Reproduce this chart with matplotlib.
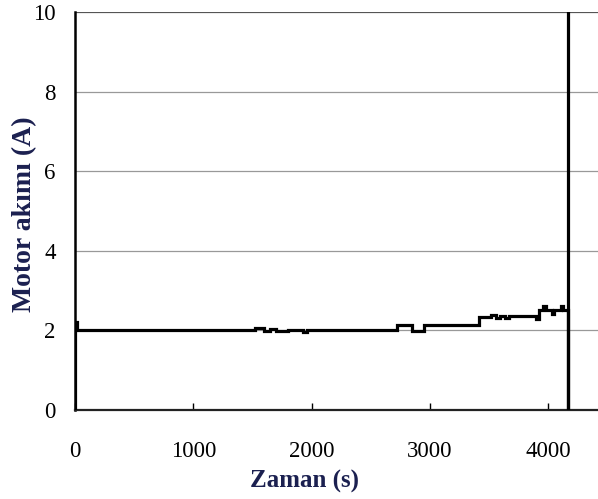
import matplotlib
matplotlib.use("Agg")
import matplotlib.pyplot as plt

# motor current vs time
zaman = [0, 0, 15, 1520, 1600, 1650, 1700, 1800, 1930, 1960, 2720, 2850, 2950,
         3420, 3520, 3560, 3590, 3640, 3670, 3900, 3920, 3960, 3980, 4030, 4050,
         4110, 4130, 4170, 4170]
akim = [0, 2.2, 2.0, 2.05, 1.98, 2.03, 1.98, 2.0, 1.97, 2.0, 2.13, 1.98, 2.13,
        2.33, 2.38, 2.30, 2.36, 2.30, 2.36, 2.28, 2.5, 2.62, 2.5, 2.40, 2.5,
        2.62, 2.5, 0, 10.5]
x_ticks = [0, 1000, 2000, 3000, 4000]
y_ticks = [0, 2, 4, 6, 8, 10]

plt.rcParams['font.family'] = ['Liberation Serif', 'DejaVu Serif']

fig = plt.figure(figsize=(5.98, 4.99), dpi=100)
ax = fig.add_axes([0.1254, 0.1784, 0.89, 0.7976])

for yv in y_ticks[1:]:
    ax.axhline(yv, color='#555555' if yv == 10 else '#999999',
               lw=1.6 if yv == 10 else 0.9, zorder=1)

ax.plot(zaman, akim, drawstyle='steps-post', color='black', lw=2.3,
        solid_joinstyle='miter', zorder=3)

ax.set_xlim(0, 4500)
ax.set_ylim(0, 10)
ax.set_xticks(x_ticks)
ax.set_yticks(y_ticks)
ax.tick_params(axis='x', direction='in', length=5, width=1, pad=22, labelsize=16.5)
ax.tick_params(axis='y', direction='in', length=0, pad=14, labelsize=16.5)

for s in ['top', 'right']:
    ax.spines[s].set_visible(False)
ax.spines['left'].set_linewidth(1.8)
ax.spines['bottom'].set_linewidth(1.6)
ax.spines['bottom'].set_color('#222222')

navy = '#1b2050'
ax.set_xlabel('Zaman (s)', fontsize=18, fontweight='bold', color=navy)
ax.set_ylabel('Motor akımı (A)', fontsize=20, fontweight='bold', color=navy)
ax.xaxis.set_label_coords(0.432, -0.15)
ax.yaxis.set_label_coords(-0.071, 0.4925)

fig.savefig('out.png', dpi=100)
